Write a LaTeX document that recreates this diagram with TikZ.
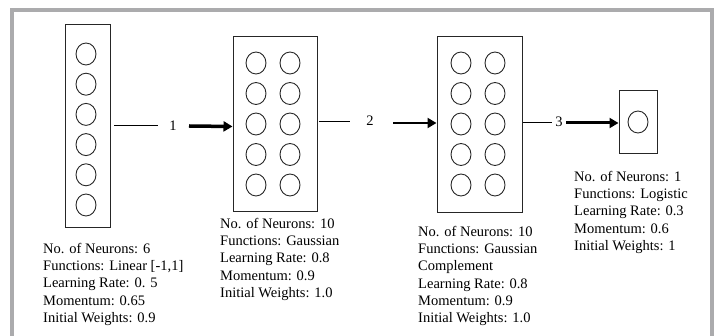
\documentclass[tikz,border=0pt]{standalone}
\usepackage{fontspec}
\setmainfont{Liberation Serif}
\usetikzlibrary{shapes.geometric,arrows.meta}
\definecolor{framegray}{RGB}{171,171,173}
\begin{document}
\begin{tikzpicture}[x=1pt,y=-1pt,
  layerbox/.style={draw=black!85,line width=1pt,inner sep=0pt,rectangle},
  neuron/.style={draw=black!85,line width=0.9pt,ellipse,inner sep=0pt,minimum width=20pt,minimum height=22pt},
  caption/.style={anchor=north west,align=left,inner sep=0pt,font=\fontsize{14.5}{17.2}\selectfont},
  lbl/.style={inner sep=0pt,font=\fontsize{14.5}{17.2}\selectfont},
  link/.style={line width=1pt},
  feed/.style={-{Triangle[length=9pt,width=10pt]}}]
\useasboundingbox (0,0) rectangle (718,336);
\fill[white] (0,0) rectangle (718,336);
% outer frame (bottom edge lies below the page)
\draw[framegray,line width=4pt] (12,10) rectangle (711.5,345);

% input layer: 6 neurons
\node[layerbox,minimum width=45pt,minimum height=203pt] (b1) at (87.5,126.5) {};
\foreach \k in {0,...,5}
  \node[neuron] (i\k) at (86,{54+30.2*\k}) {};

% first hidden layer: 10 neurons
\node[layerbox,minimum width=84pt,minimum height=175pt] (b2) at (275,124.5) {};
\foreach \k in {0,...,4}{
  \node[neuron] (g\k a) at (256,{63+30.5*\k}) {};
  \node[neuron] (g\k b) at (290,{63+30.5*\k}) {};
}

% second hidden layer: 10 neurons
\node[layerbox,minimum width=85pt,minimum height=176pt] (b3) at (479.5,125) {};
\foreach \k in {0,...,4}{
  \node[neuron] (c\k a) at (461,{63+30.5*\k}) {};
  \node[neuron] (c\k b) at (495,{63+30.5*\k}) {};
}

% output layer: 1 neuron
\node[layerbox,minimum width=38pt,minimum height=63pt] (b4) at (638,122.5) {};
\node[neuron] (o0) at (638,122) {};

% connection labels
\node[lbl] (w1) at (173,126) {1};
\node[lbl] (w2) at (370,121) {2};
\node[lbl] (w3) at (559,122) {3};

% connections
\coordinate (s1) at (114,126);
\coordinate (e1) at (158,126);
\coordinate (t1) at (189,126);
\draw[link] (s1) -- (e1);
\draw[feed,line width=3.5pt] (t1) -- (b1.east -| b2.west);

\coordinate (s2) at (319,122);
\coordinate (e2) at (350,122);
\coordinate (t2) at (393,123);
\draw[link] (s2) -- (e2);
\draw[feed,line width=2.6pt] (t2) -- (t2 -| b3.west);

\coordinate (s3) at (523,123);
\coordinate (e3) at (552,123);
\coordinate (t3) at (566,123);
\draw[link] (s3) -- (e3);
\draw[feed,line width=3pt] (t3) -- (t3 -| b4.west);

% layer parameters
\node[caption] (p1) at (43,243) {No. of Neurons: 6\\Functions: Linear [-1,1]\\Learning Rate: 0. 5\\Momentum: 0.65\\Initial Weights: 0.9};
\node[caption] (p2) at (220,218) {No. of Neurons: 10\\Functions: Gaussian\\Learning Rate: 0.8\\Momentum: 0.9\\Initial Weights: 1.0};
\node[caption] (p3) at (418,226) {No. of Neurons: 10\\Functions: Gaussian\\Complement\\Learning Rate: 0.8\\Momentum: 0.9\\Initial Weights: 1.0};
\node[caption] (p4) at (574,171) {No. of Neurons: 1\\Functions: Logistic\\Learning Rate: 0.3\\Momentum: 0.6\\Initial Weights: 1};
\end{tikzpicture}
\end{document}
